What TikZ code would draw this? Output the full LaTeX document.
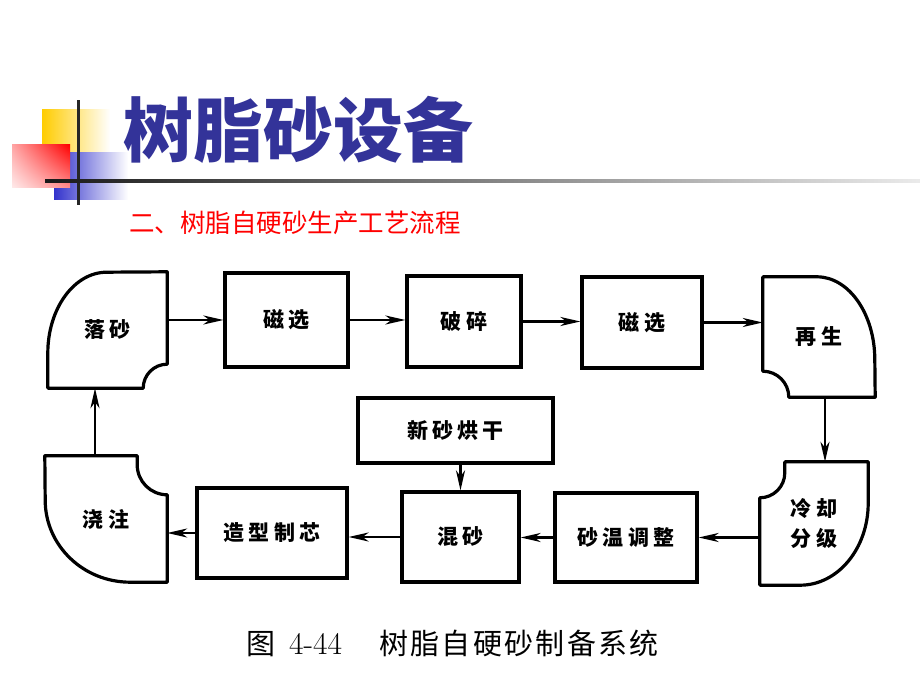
\documentclass[tikz,border=0pt]{standalone}
\usepackage{fontspec}
\usepackage{tikz}
\usetikzlibrary{arrows.meta, positioning, calc, shadings}
\newfontfamily\cjk{Noto Sans CJK SC}
\newfontfamily\cjkls[LetterSpace=20]{Noto Sans CJK SC}
\newfontfamily\cjkcap[LetterSpace=8]{Noto Sans CJK SC}
\definecolor{titleblue}{RGB}{51,51,153}
\definecolor{deckyellow}{RGB}{255,204,0}
\definecolor{deckblue}{RGB}{51,51,204}
\definecolor{deckred}{RGB}{255,0,0}

\tikzset{
  box/.style={draw, line width=3.2pt, inner sep=0pt, font=\cjkls\bfseries\fontsize{21}{30}\selectfont, align=center},
  corner/.style={inner sep=0pt, font=\cjkls\bfseries\fontsize{21}{30}\selectfont, align=center},
  outl/.style={line width=3.2pt, line join=round},
  arr/.style={-{Stealth[length=20pt, width=9pt, inset=6pt]}, line width=2.3pt}
}

\begin{document}
\begin{tikzpicture}[x=1pt, y=1pt]

		\fill[white] (0,0) rectangle (920,690);
		\useasboundingbox (0,0) rectangle (920,690);

		% title decoration
		\shade[left color=deckyellow, right color=white] (42,537) rectangle (110,580);
		\shade[left color=deckblue, right color=white] (54,490) rectangle (128,537);
		\shade[upper right=deckred, lower left=deckred!8, upper left=deckred!35, lower right=deckred!45] (12,502) rectangle (70,545);
		\fill[black!85] (76.5,485) rectangle (79.5,590);
		\shade[left color=black!90, right color=black!8] (45,507.5) rectangle (920,510.5);

		\node[anchor=west, inner sep=0pt, text=titleblue, font=\cjk\bfseries\fontsize{70}{72}\selectfont] (title) at (123,560) {树脂砂设备};
		\node[anchor=west, inner sep=0pt, text=deckred, font=\cjk\fontsize{25.5}{28}\selectfont] (sub) at (129,467) {二、树脂自硬砂生产工艺流程};

		% flow boxes
		\node[box, minimum width=123, minimum height=94] (cx1) at (286.5,370) {磁选};
		\node[box, minimum width=114, minimum height=91] (ps) at (464,368.5) {破碎};
		\node[box, minimum width=120, minimum height=91] (cx2) at (642,367.5) {磁选};
		\node[box, minimum width=195, minimum height=65] (xs) at (455.5,259.5) {新砂烘干};
		\node[box, minimum width=117, minimum height=90] (hs) at (460.5,153) {混砂};
		\node[box, minimum width=142, minimum height=89] (sw) at (626,152.5) {砂温调整};
		\node[box, minimum width=150, minimum height=90] (zx) at (272,157) {造型制芯};

		\node[corner, minimum width=119, minimum height=116] (ls) at (107.5,360) {落砂};
		\node[corner, minimum width=112, minimum height=120] (zs) at (819,353) {再生};
		\node[corner, minimum width=108, minimum height=123] (lq) at (814,166.5) {冷却\\分级};
		\node[corner, minimum width=122, minimum height=126] (jz) at (106,171) {浇注};

		\draw[outl] (ls.north east) -- ([yshift=24]ls.south east) arc[start angle=90, end angle=180, radius=24] -- (ls.south west) -- ([yshift=35]ls.south west) arc[start angle=180, end angle=90, x radius=59, y radius=81] -- cycle;
		\draw[outl] (zs.north west) -- ([xshift=54]zs.north west) arc[start angle=90, end angle=0, x radius=58, y radius=83] -- (zs.south east) -- ([xshift=26]zs.south west) arc[start angle=0, end angle=90, radius=26] -- cycle;
		\draw[outl] ([xshift=25]lq.north west) -- (lq.north east) -- ([yshift=82]lq.south east) arc[start angle=0, end angle=-90, x radius=68, y radius=82] -- (lq.south west) -- ([yshift=-36]lq.north west) arc[start angle=-90, end angle=0, radius=25] -- cycle;
		\draw[outl] (jz.north west) -- ([xshift=-30]jz.north east) -- ++(0,-9) arc[start angle=180, end angle=270, radius=30] -- (jz.south east) -- ([xshift=-37]jz.south east) arc[start angle=270, end angle=180, x radius=85, y radius=82] -- cycle;

		% connectors
		\draw[arr] (ls.east |- cx1.west) -- (cx1.west);
		\draw[arr] (cx1.east) -- (cx1.east -| ps.west);
		\draw[arr] (ps.east) -- (ps.east -| cx2.west);
		\draw[arr] (cx2.east) -- (cx2.east -| zs.west);
		\draw[arr] ([xshift=6]zs.south) -- ([xshift=6]zs.south |- lq.north);
		\draw[arr] (lq.west |- sw.east) -- (sw.east);
		\draw[arr] (sw.west) -- (sw.west -| hs.east);
		\draw[arr] (hs.west) -- (hs.west -| zx.east);
		\draw[arr] (zx.west) -- (zx.west -| jz.east);
		\draw[arr] ([xshift=-11]jz.north) -- ([xshift=-11]jz.north |- ls.south);
		\draw[arr] (xs.south -| hs.north) -- (hs.north);

		\node[anchor=west, inner sep=0pt, font=\cjkcap\fontsize{29}{32}\selectfont] (cap) at (246,47) {图\hspace{14pt}{\rmfamily\fontsize{31.5}{32}\selectfont 4-44}\hspace{37pt}树脂自硬砂制备系统};

\end{tikzpicture}
\end{document}
